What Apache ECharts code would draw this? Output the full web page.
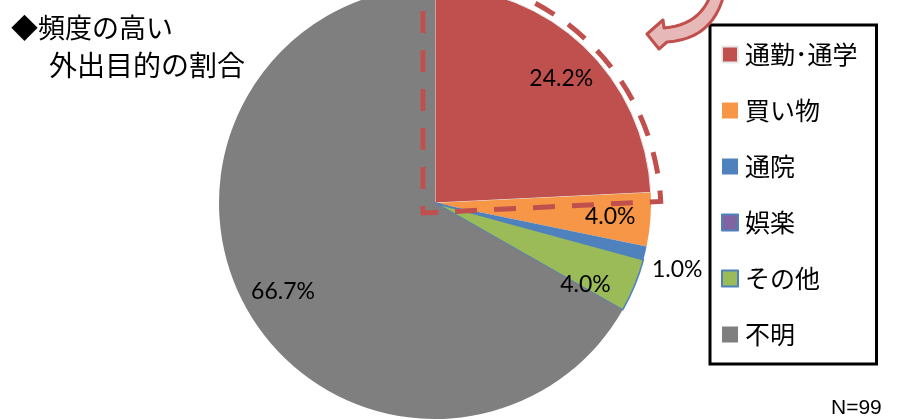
<!DOCTYPE html>
<html><head><meta charset="utf-8">
<script src="https://cdn.jsdelivr.net/npm/echarts@6/dist/echarts.min.js"></script>
<style>html,body{margin:0;padding:0;background:#fff}#c{width:910px;height:419px}</style>
</head><body><div id="c"></div>
<script>
const categories = ['通勤･通学', '買い物', '通院', '娯楽', 'その他', '不明'];
const values = [24.2, 4.0, 1.0, 0, 4.0, 66.7];
const colors = ['#C0504D', '#F79646', '#4F81BD', '#8064A2', '#9BBB59', '#7F7F7F'];
const titleLines = ['◆頻度の高い', '外出目的の割合'];
const noteText = 'N=99';

const CJK = '"Noto Sans CJK JP", "Noto Sans", sans-serif';
const NUM = 'Lato, "Liberation Sans", sans-serif';
const R = 216;
const C = [435, 203];

function quad(p0, c, p1, n) {
  const pts = [];
  for (let k = 0; k <= n; k++) {
    const t = k / n, u = 1 - t;
    pts.push([u * u * p0[0] + 2 * u * t * c[0] + t * t * p1[0], u * u * p0[1] + 2 * u * t * c[1] + t * t * p1[1]]);
  }
  return pts;
}
const arrowPts = [[647, 34], [663, 20]]
  .concat(quad([664, 28], [700, 25], [711, -6], 12))
  .concat(quad([724, -6], [713, 39], [667, 42], 12))
  .concat([[659, 49]]);

const mainData = categories.map((n, i) => {
  const d = { name: n, value: values[i], itemStyle: { color: colors[i] } };
  if (i === 0) { d.itemStyle.borderColor = '#E8E8E8'; d.itemStyle.borderWidth = 1; }
  if (i === 3 || i === 4) { d.itemStyle.borderColor = '#4F81BD'; d.itemStyle.borderWidth = 1.5; }
  return d;
});

const labelData = categories.map((n, i) => {
  const d = { name: n, value: values[i] };
  if (values[i] === 0) d.label = { show: false };
  if (i === 2) d.label = { position: 'outside', distanceToLabelLine: 1 };
  return d;
});

const outlineData = categories.map((n, i) => {
  if (i === 0) return { name: n, value: values[i], itemStyle: { color: 'rgba(0,0,0,0)', borderColor: '#C0504D', borderWidth: 5, borderType: [22, 17], borderJoin: 'miter' } };
  return { name: n, value: values[i], itemStyle: { color: 'rgba(0,0,0,0)', borderWidth: 0 } };
});

const option = {
  animation: false,
  title: [
    { text: titleLines[0], left: 6, top: 9, textStyle: { fontFamily: CJK, fontSize: 27, fontWeight: 'normal', color: '#000' } },
    { text: titleLines[1], left: 44, top: 46, textStyle: { fontFamily: CJK, fontSize: 28, fontWeight: 'normal', color: '#000' } },
    { text: noteText, left: 826, top: 393, textStyle: { fontFamily: '"Liberation Sans", sans-serif', fontSize: 21, fontWeight: 'normal', color: '#000' } }
  ],
  legend: {
    orient: 'vertical',
    left: 710, top: 25,
    padding: [17, 19, 17, 11],
    borderColor: '#000', borderWidth: 3,
    itemWidth: 16, itemHeight: 16, itemGap: 31,
    icon: 'rect',
    selectedMode: false,
    data: categories,
    textStyle: { fontFamily: CJK, fontSize: 25, color: '#000', padding: [0, 0, 0, 2] }
  },
  graphic: [{
    type: 'polygon',
    shape: { points: arrowPts },
    style: { fill: '#E6B9B8', stroke: '#C0504D', lineWidth: 3, lineJoin: 'round' },
    z: 10
  }],
  series: [
    {
      type: 'pie', center: C, radius: [0, R], startAngle: 90, clockwise: true,
      label: { show: false }, labelLine: { show: false },
      silent: true, data: mainData
    },
    {
      type: 'pie', center: C, radius: [R * 0.6, R], startAngle: 90, clockwise: true,
      avoidLabelOverlap: false, silent: true,
      itemStyle: { color: 'rgba(0,0,0,0)', borderWidth: 0 },
      label: { show: true, position: 'inside', fontFamily: NUM, fontSize: 23, color: '#000',
        formatter: p => p.value.toFixed(1) + '%' },
      labelLine: { show: false, length: 6, length2: 0 },
      labelLayout: p => (p.dataIndex === 2 ? { dy: 15 } : p.dataIndex === 4 ? { dx: -12, dy: 14 } : p.dataIndex === 0 ? { dx: 5, dy: 3 } : {}),
      legendHoverLink: false,
      data: labelData,
      z: 3
    },
    {
      type: 'pie', center: [423, 213], radius: [0, 238], startAngle: 90, clockwise: true,
      label: { show: false }, labelLine: { show: false }, silent: true,
      legendHoverLink: false,
      data: outlineData, z: 4
    }
  ]
};
const chart = echarts.init(document.getElementById('c'), null, { renderer: 'canvas' });
chart.setOption(option);
</script></body></html>
